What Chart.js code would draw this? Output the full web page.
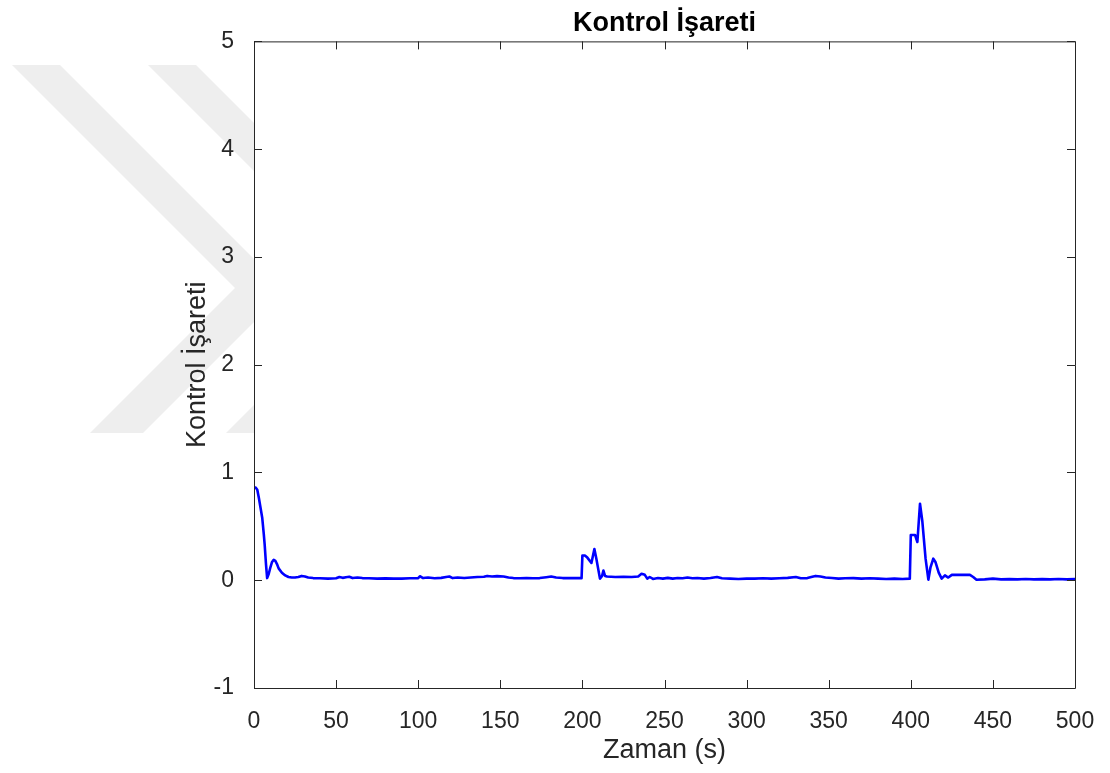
<!DOCTYPE html>
<html>
<head>
<meta charset="utf-8">
<script src="https://cdn.jsdelivr.net/npm/chart.js@4"></script>
<style>
  html, body { margin: 0; padding: 0; background: #fff; }
  #wrap { width: 1110px; height: 773px; }
</style>
</head>
<body>
<div id="wrap"><canvas id="controlChart" width="1110" height="773"></canvas></div>
<script>
const chartTitle = "Kontrol İşareti";
const xLabel = "Zaman (s)";
const yLabel = "Kontrol İşareti";

const xTicks = [0, 50, 100, 150, 200, 250, 300, 350, 400, 450, 500];
const yTicks = [-1, 0, 1, 2, 3, 4, 5];

const time = [
  0, 1, 2, 3, 4, 5, 6, 6.5, 7.3, 8, 9, 10, 11, 12, 13, 14, 15, 17, 19, 21,
  23, 25, 27, 29, 31, 33, 36, 40, 45, 50, 52, 54, 56, 58, 60, 63, 66, 70, 75, 80,
  85, 90, 95, 100, 101, 103, 106, 110, 114, 117, 119, 121, 124, 128, 132, 136, 140, 142, 145, 148,
  152, 155, 158, 162, 166, 170, 174, 178, 181, 184, 188, 192, 196, 199.5, 200, 201.5, 203, 205.5, 207.3, 208.5,
  210.7, 212, 212.8, 213.8, 215, 220, 225, 230, 234, 236, 238, 239.5, 241, 243, 246, 249, 252, 255, 258, 261,
  264, 267, 270, 274, 278, 282, 285, 290, 295, 300, 305, 310, 315, 320, 325, 330, 333, 337, 340, 342,
  345, 348, 352, 356, 360, 365, 370, 375, 380, 385, 390, 395, 399.4, 400, 402.6, 404, 405.6, 407, 409, 410.7,
  412, 413.7, 415, 417, 418.8, 420.8, 422.8, 425, 430, 436, 438, 440, 445, 450, 455, 460, 465, 470, 475, 480,
  485, 490, 495, 500
];

const signal = [
  0.86, 0.86, 0.84, 0.76, 0.67, 0.58, 0.42, 0.33, 0.15, 0.02, 0.06, 0.12, 0.17, 0.19, 0.18, 0.15, 0.11, 0.07, 0.045, 0.03,
  0.025, 0.025, 0.03, 0.04, 0.035, 0.025, 0.02, 0.018, 0.015, 0.018, 0.03, 0.022, 0.028, 0.032, 0.02, 0.025, 0.02, 0.018, 0.015, 0.017,
  0.015, 0.015, 0.018, 0.02, 0.037, 0.02, 0.025, 0.018, 0.022, 0.03, 0.035, 0.02, 0.025, 0.02, 0.025, 0.03, 0.032, 0.04, 0.035, 0.038,
  0.035, 0.025, 0.02, 0.018, 0.02, 0.018, 0.02, 0.028, 0.035, 0.025, 0.02, 0.02, 0.02, 0.02, 0.23, 0.23, 0.21, 0.16, 0.29, 0.2,
  0.015, 0.04, 0.09, 0.04, 0.035, 0.03, 0.032, 0.03, 0.035, 0.06, 0.05, 0.015, 0.03, 0.012, 0.02, 0.015, 0.022, 0.015, 0.02, 0.018,
  0.025, 0.018, 0.02, 0.015, 0.02, 0.03, 0.018, 0.015, 0.012, 0.015, 0.015, 0.018, 0.015, 0.018, 0.022, 0.03, 0.018, 0.02, 0.032, 0.04,
  0.035, 0.025, 0.02, 0.015, 0.018, 0.02, 0.015, 0.018, 0.015, 0.012, 0.015, 0.012, 0.015, 0.42, 0.42, 0.355, 0.71, 0.55, 0.2, 0.005,
  0.12, 0.2, 0.17, 0.07, 0.015, 0.045, 0.025, 0.05, 0.05, 0.05, 0.03, 0.005, 0.008, 0.015, 0.008, 0.01, 0.008, 0.012, 0.008, 0.01,
  0.008, 0.012, 0.008, 0.01
];

const textColor = "#262626";
const fontFamily = "'Liberation Sans', Arial, Helvetica, sans-serif";

// faint chevron watermark behind the figure, plus white axes background
const watermark = {
  id: "watermark",
  beforeDraw(chart) {
    const { ctx, chartArea: a } = chart;
    ctx.save();
    ctx.fillStyle = "#fff";
    ctx.fillRect(0, 0, chart.width, chart.height);
    ctx.fillStyle = "#eeeeee";
    [0, 136].forEach(dx => {
      ctx.beginPath();
      ctx.moveTo(12 + dx, 65);
      ctx.lineTo(60 + dx, 65);
      ctx.lineTo(285.5 + dx, 290.5);
      ctx.lineTo(143 + dx, 433);
      ctx.lineTo(90 + dx, 433);
      ctx.lineTo(235 + dx, 288);
      ctx.closePath();
      ctx.fill();
    });
    ctx.fillStyle = "#fff";
    ctx.fillRect(a.left, a.top, a.right - a.left, a.bottom - a.top);
    ctx.restore();
  }
};

// matlab style box with inward ticks on all four sides
const boxTicks = {
  id: "boxTicks",
  afterDraw(chart) {
    const { ctx, chartArea: a, scales } = chart;
    const len = 8;
    ctx.save();
    ctx.strokeStyle = textColor;
    ctx.lineWidth = 1;
    ctx.beginPath();
    ctx.rect(a.left + 0.5, a.top + 0.5, a.right - a.left, a.bottom - a.top);
    xTicks.forEach(v => {
      const x = Math.round(scales.x.getPixelForValue(v)) + 0.5;
      ctx.moveTo(x, a.bottom);
      ctx.lineTo(x, a.bottom - len);
      ctx.moveTo(x, a.top);
      ctx.lineTo(x, a.top + len);
    });
    yTicks.forEach(v => {
      const y = Math.round(scales.y.getPixelForValue(v)) + 0.5;
      ctx.moveTo(a.left, y);
      ctx.lineTo(a.left + len, y);
      ctx.moveTo(a.right, y);
      ctx.lineTo(a.right - len, y);
    });
    ctx.stroke();
    ctx.restore();
  }
};

new Chart(document.getElementById("controlChart").getContext("2d"), {
  type: "line",
  data: {
    datasets: [{
      data: time.map((t, i) => ({ x: t, y: signal[i] })),
      borderColor: "#0000ff",
      borderWidth: 2.6,
      borderJoinStyle: "round",
      borderCapStyle: "round",
      pointRadius: 0,
      tension: 0
    }]
  },
  options: {
    responsive: false,
    animation: false,
    layout: { padding: { left: 170, right: 35, top: 0, bottom: 0 } },
    plugins: {
      legend: { display: false },
      tooltip: { enabled: false },
      title: {
        display: true,
        text: chartTitle,
        fullSize: false,
        color: "#000",
        font: { family: fontFamily, size: 27, weight: "bold" },
        padding: { top: 7, bottom: 2 }
      }
    },
    scales: {
      x: {
        type: "linear",
        min: 0,
        max: 500,
        afterBuildTicks: s => { s.ticks = xTicks.map(v => ({ value: v })); },
        afterFit: s => { s.height = 85; },
        grid: { display: false },
        border: { display: false },
        ticks: {
          color: textColor,
          padding: 12,
          maxRotation: 0,
          font: { family: fontFamily, size: 23 }
        },
        title: {
          display: true,
          text: xLabel,
          color: textColor,
          font: { family: fontFamily, size: 27 },
          padding: { top: 0, bottom: 6 }
        }
      },
      y: {
        type: "linear",
        min: -1,
        max: 5,
        afterBuildTicks: s => { s.ticks = yTicks.map(v => ({ value: v })); },
        afterFit: s => { s.width = 84; },
        grid: { display: false },
        border: { display: false },
        ticks: {
          color: textColor,
          padding: 12,
          font: { family: fontFamily, size: 23 }
        },
        title: {
          display: true,
          text: yLabel,
          color: textColor,
          font: { family: fontFamily, size: 27 },
          padding: { top: 11, bottom: 0 }
        }
      }
    }
  },
  plugins: [watermark, boxTicks]
});
</script>
</body>
</html>
